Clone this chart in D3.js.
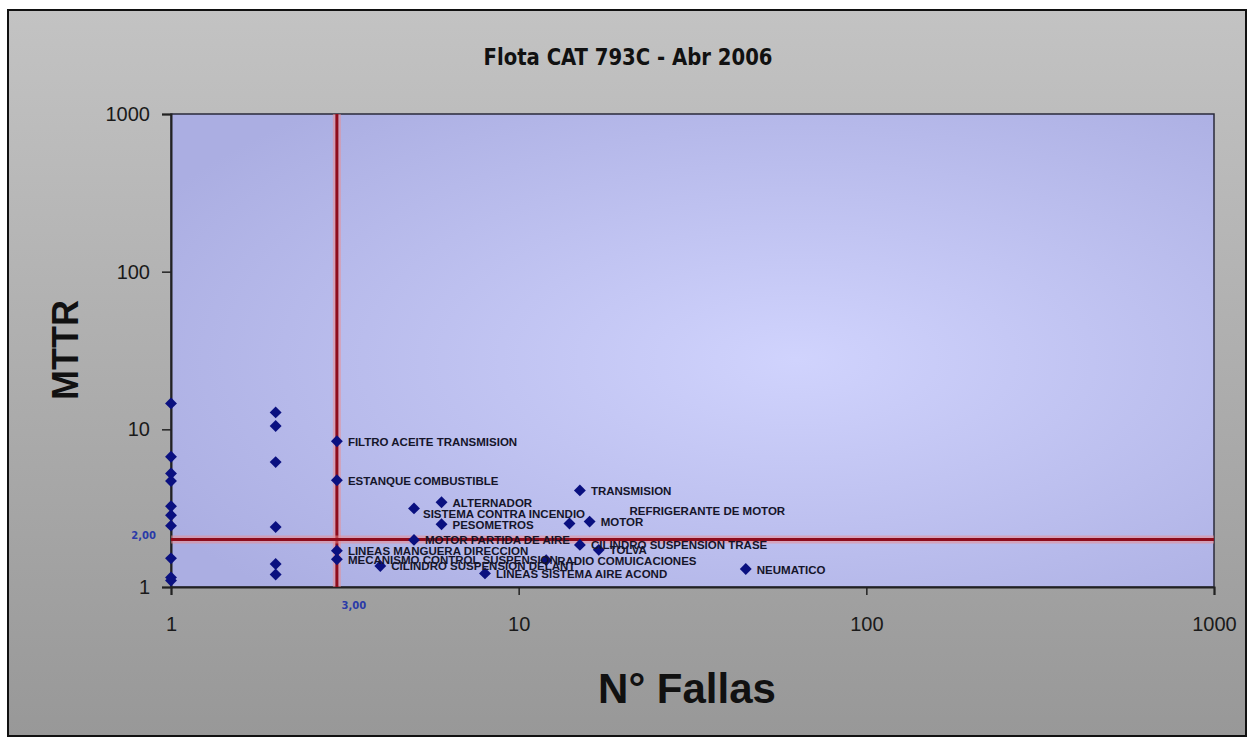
<!DOCTYPE html>
<html lang="es">
<head>
<meta charset="UTF-8">
<title>Flota CAT 793C - Abr 2006</title>
<script src="https://d3js.org/d3.v7.min.js"></script>
<style>
  body { margin: 0; background: #fff; }
  svg { display: block; }
</style>
</head>
<body>
<script>
// datos: componente, N° fallas, MTTR
var names = [
  "", "", "", "", "", "", "", "", "", "",
  "", "", "", "", "", "",
  "FILTRO ACEITE TRANSMISION", "ESTANQUE COMBUSTIBLE", "LINEAS MANGUERA DIRECCION", "MECANISMO CONTROL SUSPENSION",
  "CILINDRO SUSPENSION DELANT", "SISTEMA CONTRA INCENDIO", "MOTOR PARTIDA DE AIRE",
  "ALTERNADOR", "PESOMETROS", "LINEAS SISTEMA AIRE ACOND", "RADIO COMUICACIONES",
  "REFRIGERANTE DE MOTOR", "TRANSMISION", "CILINDRO SUSPENSION TRASE", "MOTOR", "TOLVA", "NEUMATICO"
];
var fallas = [
  1, 1, 1, 1, 1, 1, 1, 1, 1, 1,
  2, 2, 2, 2, 2, 2,
  3, 3, 3, 3,
  4, 5, 5,
  6, 6, 8, 12,
  14, 15, 15, 16, 17, 45
];
var mttr = [
  14.6, 6.7, 5.25, 4.7, 3.25, 2.85, 2.45, 1.52, 1.15, 1.1,
  12.8, 10.5, 6.2, 2.4, 1.4, 1.2,
  8.4, 4.75, 1.7, 1.5,
  1.36, 3.15, 1.99,
  3.45, 2.5, 1.22, 1.48,
  2.53, 4.1, 1.85, 2.6, 1.72, 1.3
];
var tickVals = [1, 10, 100, 1000];
var fallasRef = 3;
var mttrRef = 2;

var width = 1251, height = 738;
var pLeft = 171, pRight = 1214, pTop = 114, pBottom = 587;

var points = names.map(function(n, i) { return { name: n, f: fallas[i], m: mttr[i] }; });

var x = d3.scaleLog().domain([1, 1000]).range([pLeft, pRight]);
var y = d3.scaleLog().domain([1, 1000]).range([pBottom, pTop]);

var svg = d3.select('body').append('svg')
  .attr('width', width)
  .attr('height', height);

var defs = svg.append('defs');
var bg = defs.append('linearGradient').attr('id', 'bg')
  .attr('x1', 0).attr('y1', 0).attr('x2', 0).attr('y2', 1);
bg.append('stop').attr('offset', '0%').attr('stop-color', '#c3c3c3');
bg.append('stop').attr('offset', '100%').attr('stop-color', '#989898');

var plotBg = defs.append('radialGradient').attr('id', 'plotbg')
  .attr('cx', '0.6').attr('cy', '0.52').attr('r', '0.7');
plotBg.append('stop').attr('offset', '0%').attr('stop-color', '#d0d3fd');
plotBg.append('stop').attr('offset', '100%').attr('stop-color', '#abaee2');

// marco exterior
svg.append('rect')
  .attr('x', 8).attr('y', 10)
  .attr('width', 1238).attr('height', 726)
  .attr('fill', 'url(#bg)')
  .attr('stroke', '#111')
  .attr('stroke-width', 2);

// area de trazado
svg.append('rect')
  .attr('x', pLeft).attr('y', pTop)
  .attr('width', pRight - pLeft).attr('height', pBottom - pTop)
  .attr('fill', 'url(#plotbg)')
  .attr('stroke', '#2a2a3a')
  .attr('stroke-width', 1.5);

// titulo
svg.append('text')
  .attr('x', 628).attr('y', 65)
  .attr('text-anchor', 'middle')
  .attr('font-family', '"Liberation Sans Narrow", "DejaVu Sans Condensed", sans-serif')
  .attr('font-weight', 'bold')
  .attr('font-size', 23)
  .attr('textLength', 289)
  .attr('lengthAdjust', 'spacingAndGlyphs')
  .attr('fill', '#111')
  .text('Flota CAT 793C - Abr 2006');

// ejes
var xAxis = d3.axisBottom(x).tickValues(tickVals).tickFormat(d3.format('d')).tickSize(8).tickPadding(22);
var yAxis = d3.axisLeft(y).tickValues(tickVals).tickFormat(d3.format('d')).tickSize(9).tickPadding(12);

var gx = svg.append('g').attr('transform', 'translate(0,' + pBottom + ')').call(xAxis);
var gy = svg.append('g').attr('transform', 'translate(' + pLeft + ',0)').call(yAxis);

[gx, gy].forEach(function(g) {
  g.select('.domain').attr('stroke', '#222').attr('stroke-width', 2);
  g.selectAll('.tick line').attr('stroke', '#222').attr('stroke-width', 1.5);
  g.selectAll('.tick text')
    .attr('font-family', '"Liberation Sans", Arial, sans-serif')
    .attr('font-size', 20)
    .attr('fill', '#1a1a1a');
});

// lineas de referencia
function refLine(x1, y1, x2, y2) {
  svg.append('line').attr('x1', x1).attr('y1', y1).attr('x2', x2).attr('y2', y2)
    .attr('stroke', '#f08a8a').attr('stroke-opacity', 0.5).attr('stroke-width', 8);
  svg.append('line').attr('x1', x1).attr('y1', y1).attr('x2', x2).attr('y2', y2)
    .attr('stroke', '#8e0c1c').attr('stroke-width', 3);
}
refLine(x(fallasRef), pTop, x(fallasRef), pBottom);
refLine(pLeft, y(mttrRef), pRight, y(mttrRef));

var refFont = '"DejaVu Sans", sans-serif';
svg.append('text')
  .attr('x', 156).attr('y', y(mttrRef) - 1)
  .attr('text-anchor', 'end')
  .attr('font-family', refFont).attr('font-weight', 'bold').attr('font-size', 10)
  .attr('fill', '#2a3aa8')
  .text(d3.format('.2f')(mttrRef).replace('.', ','));
svg.append('text')
  .attr('x', x(fallasRef) + 17).attr('y', pBottom + 22)
  .attr('text-anchor', 'middle')
  .attr('font-family', refFont).attr('font-weight', 'bold').attr('font-size', 10)
  .attr('fill', '#2a3aa8')
  .text(d3.format('.2f')(fallasRef).replace('.', ','));

// puntos
var diamond = d3.symbol().type(d3.symbolDiamond2).size(90);
svg.selectAll('path.pt')
  .data(points)
  .enter()
  .append('path')
  .attr('class', 'pt')
  .attr('d', diamond)
  .attr('fill', '#0a1080')
  .attr('transform', function(d) { return 'translate(' + x(d.f) + ',' + y(d.m) + ')'; });

// etiquetas (algunas movidas a mano en el original)
var nudge = {
  'REFRIGERANTE DE MOTOR': [49, -13],
  'SISTEMA CONTRA INCENDIO': [-2, 5]
};
svg.selectAll('text.lbl')
  .data(points.filter(function(d) { return d.name; }))
  .enter()
  .append('text')
  .attr('class', 'lbl')
  .attr('x', function(d) { return x(d.f) + 11 + (nudge[d.name] ? nudge[d.name][0] : 0); })
  .attr('y', function(d) { return y(d.m) + 4.5 + (nudge[d.name] ? nudge[d.name][1] : 0); })
  .attr('font-family', '"Liberation Sans", Arial, sans-serif')
  .attr('font-weight', 'bold')
  .attr('font-size', 11.5)
  .attr('fill', '#15152a')
  .text(function(d) { return d.name; });

// titulos de ejes
svg.append('text')
  .attr('x', 687).attr('y', 703)
  .attr('text-anchor', 'middle')
  .attr('font-family', '"Liberation Sans", Arial, sans-serif')
  .attr('font-weight', 'bold')
  .attr('font-size', 42)
  .attr('fill', '#111')
  .text('N° Fallas');

svg.append('text')
  .attr('transform', 'translate(78,350) rotate(-90)')
  .attr('text-anchor', 'middle')
  .attr('font-family', '"Liberation Sans", Arial, sans-serif')
  .attr('font-weight', 'bold')
  .attr('font-size', 36)
  .attr('fill', '#111')
  .text('MTTR');
</script>
</body>
</html>
